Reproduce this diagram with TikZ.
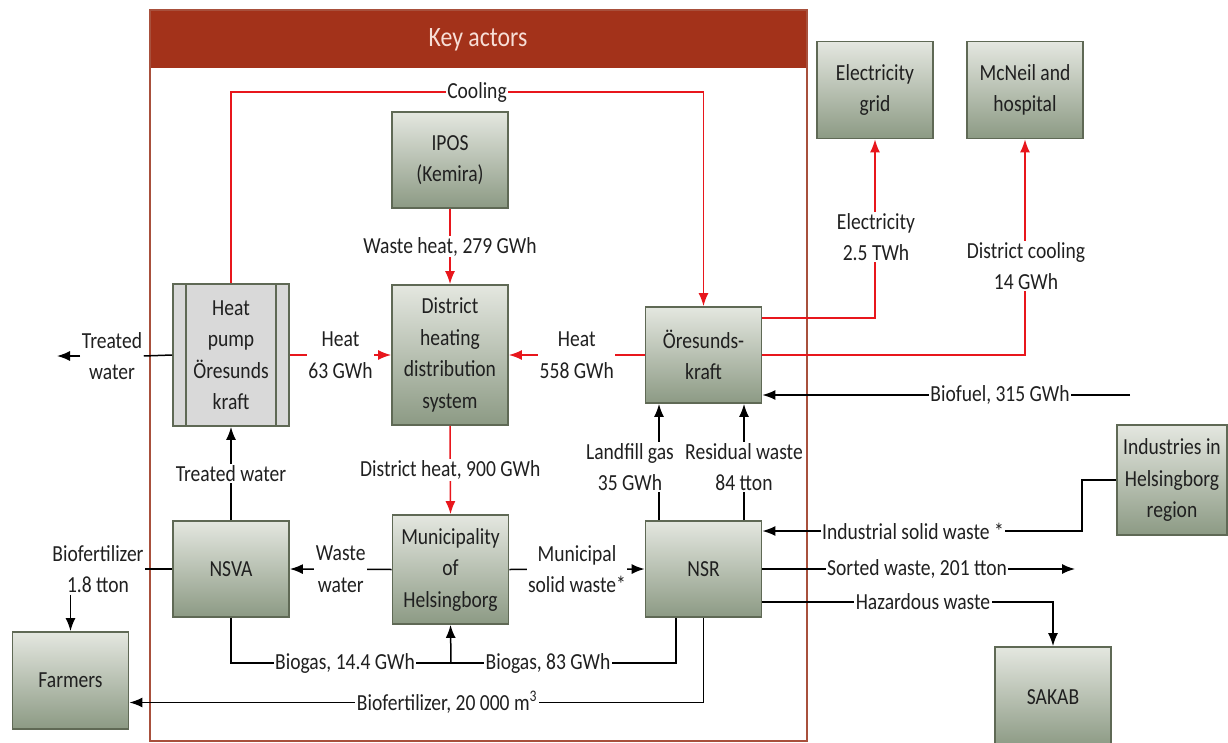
\documentclass[tikz,border=0pt]{standalone}
\usepackage{fontspec}
\setmainfont{Carlito}[FakeStretch=0.85]
\usetikzlibrary{arrows.meta}
\definecolor{hdr}{HTML}{A3321A}
\definecolor{frm}{HTML}{A8503C}
\definecolor{rd}{HTML}{E8161C}
\definecolor{bxtop}{HTML}{E4E7E0}
\definecolor{bxbot}{HTML}{8C9A84}
\definecolor{bxline}{HTML}{5F6955}
\definecolor{txt}{HTML}{202020}
\definecolor{hdrtxt}{HTML}{F7DED6}
\definecolor{hpfill}{HTML}{D9D9D9}
\begin{document}
\begin{tikzpicture}[x=1pt,y=-1pt,
  font=\fontsize{23}{31.5}\selectfont,
  >={Latex[length=13pt,width=10pt]},
  box/.style={draw=bxline,line width=1.8pt,top color=bxtop,bottom color=bxbot,
    align=center,inner sep=0pt,text=txt},
  hpbox/.style={draw=bxline,line width=1.8pt,fill=hpfill,align=center,inner sep=0pt,text=txt},
  lbl/.style={fill=white,inner sep=1.5pt,align=center,text=txt},
  bl/.style={draw=black,line width=1.5pt},
  rl/.style={draw=rd,line width=1.5pt}]
\useasboundingbox (0,0) rectangle (1228,743);
\fill[white] (0,0) rectangle (1228,743);

% frame
\fill[hdr] (150,10) rectangle (807,68);
\draw[frm,line width=1.3pt] (150,10) rectangle (807,741);
\node[text=hdrtxt,font=\fontsize{28}{32}\selectfont] (hdrlabel) at (478,40) {Key actors};

% nodes
\node[box,minimum width=116pt,minimum height=96pt] (ipos) at (450,160) {IPOS\\(Kemira)};
\node[hpbox,minimum width=116pt,minimum height=142pt] (hp) at (231,355) {Heat\\pump\\Öresunds\\kraft};
\draw[bxline,line width=1.5pt] ([xshift=14pt]hp.north west) -- ([xshift=14pt]hp.south west);
\draw[bxline,line width=1.5pt] ([xshift=-14pt]hp.north east) -- ([xshift=-14pt]hp.south east);
\node[box,minimum width=116pt,minimum height=140pt] (dh) at (450,355) {District\\heating\\distribution\\system};
\node[box,minimum width=116pt,minimum height=96pt] (ore) at (703.5,355) {Öresunds-\\kraft};
\node[box,minimum width=116pt,minimum height=97pt] (elec) at (875,90) {Electricity\\grid};
\node[box,minimum width=116pt,minimum height=97pt] (mcn) at (1025,90) {McNeil and\\hospital};
\node[box,minimum width=116pt,minimum height=96pt] (nsva) at (231,569) {NSVA};
\node[box,minimum width=116pt,minimum height=109pt] (mun) at (450.5,569.5) {Municipality\\of\\Helsingborg};
\node[box,minimum width=116pt,minimum height=96pt] (nsr) at (703.5,569) {NSR};
\node[box,minimum width=116pt,minimum height=97pt] (farm) at (70.5,680.5) {Farmers};
\node[box,minimum width=110pt,minimum height=110pt] (ind) at (1172,480) {Industries in\\Helsingborg\\region};
\node[box,minimum width=116pt,minimum height=100pt] (sakab) at (1053,697) {SAKAB};

% red flows
\coordinate (cool) at (477,92);
\draw[rl,->] (hp.north) |- (cool) -| (ore.north);
\node[lbl] (coollbl) at (cool) {Cooling};
\draw[rl,->] (ipos.south) -- (dh.north) node[lbl,midway] (wh) {Waste heat, 279 GWh};
\draw[rl,->] (hp.east) -- (dh.west) node[lbl,midway] (h63) {Heat\\63 GWh};
\draw[rl,->] (ore.west) -- (dh.east) node[lbl,midway] (h558) {Heat\\558 GWh};
\draw[rl,->] (dh.south) -- (mun.north) node[lbl,midway] (dhh) {District heat, 900 GWh};
\draw[rl,->] ([yshift=37pt]ore.east) -| (elec.south);
\node[lbl] (ellbl) at (876,237) {Electricity\\2.5 TWh};
\draw[rl,->] (ore.east) -| (mcn.south);
\node[lbl] (dclbl) at (1026,266) {District cooling\\14 GWh};

% black flows
\coordinate (bf) at (1130,395);
\draw[bl,->] (bf) -- (ore.east|-bf);
\node[lbl] (bflbl) at (1000,395) {Biofuel, 315 GWh};
\draw[bl,->] ([xshift=-44.5pt]nsr.north) -- ([xshift=-44.5pt]ore.south);
\node[lbl] (lfg) at (630,467) {Landfill gas\\35 GWh};
\draw[bl,->] ([xshift=40.5pt]nsr.north) -- ([xshift=40.5pt]ore.south);
\node[lbl] (rw) at (744,467) {Residual waste\\84 tton};

\node[lbl] (tw) at (112,356) {Treated\\water};
\coordinate (twend) at (57,356);
\draw[bl] (hp.west) -- (tw.east);
\draw[bl,->] (tw.west) -- (twend);

\draw[bl,->] (nsva.north) -- (hp.south) node[lbl,midway] (tw2) {Treated water};
\draw[bl,->] (mun.west) -- (nsva.east) node[lbl,midway] (ww) {Waste\\water};
\draw[bl,->] (mun.east) -- (nsr.west) node[lbl,midway] (msw) {Municipal\\solid waste*};

\node[lbl] (bio1) at (98,569) {Biofertilizer\\1.8 tton};
\draw[bl] (nsva.west) -- (bio1.east);
\draw[bl,->] (bio1.south -| farm.north) -- (farm.north);

\coordinate (bgc) at (451,663);
\draw[bl] (nsva.south) |- (bgc);
\draw[bl] ([xshift=-27.5pt]nsr.south) |- (bgc);
\draw[bl,->] (bgc) -- (mun.south);
\node[lbl] (bg1) at (345,663) {Biogas, 14.4 GWh};
\node[lbl] (bg2) at (548,663) {Biogas, 83 GWh};

\draw[bl,->] (nsr.south) |- ([yshift=-22pt]farm.east);
\node[lbl] (bio2) at (447,702) {Biofertilizer, 20 000 m\textsuperscript{3}};

\draw[bl,->] (ind.west) -- ++(-34,0) |- ([yshift=38pt]nsr.east);
\node[lbl] (isw) at (913,531) {Industrial solid waste *};
\coordinate (sw) at (1075,569);
\draw[bl,->] (nsr.east) -- (sw);
\node[lbl] (swl) at (917,569) {Sorted waste, 201 tton};
\draw[bl,->] ([yshift=-33pt]nsr.east) -| (sakab.north);
\node[lbl] (hzl) at (923,602) {Hazardous waste};
\end{tikzpicture}
\end{document}
